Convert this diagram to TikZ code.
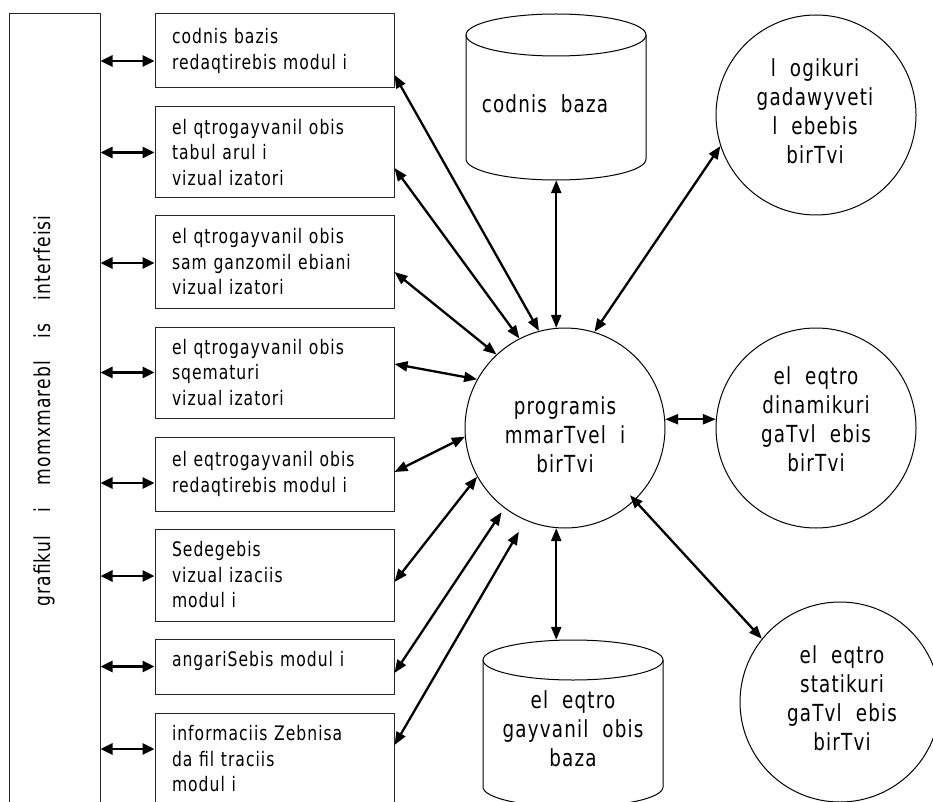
\documentclass[tikz,border=0pt]{standalone}
\usepackage{fontspec}
\setmainfont{DejaVu Sans}[FakeStretch=0.78, LetterSpace=5, WordSpace=2]
\newfontfamily\myvertfamily{DejaVu Sans}[FakeStretch=0.78, LetterSpace=5, WordSpace=3.5]
\usetikzlibrary{arrows.meta,calc}
\newcommand\myboxfont{\fontsize{20}{25.5}\selectfont}
\newcommand\mycircfont{\fontsize{23.5}{29}\selectfont}
\newcommand\myvertfont{\myvertfamily\fontsize{22}{26}\selectfont}
\tikzset{
  modbox/.style={draw=black!85, line width=1pt, rectangle, minimum width=239pt,
    minimum height=#1, text width=205pt, inner xsep=17pt, inner ysep=0pt,
    align=left, font=\myboxfont},
  bigcirc/.style={draw, line width=1pt, circle, minimum size=200pt, inner sep=0pt},
  ctext/.style={align=center, font=\mycircfont, inner sep=0pt},
  cylline/.style={draw, line width=1pt},
  harrow/.style={line width=2.8pt, {Triangle[length=12pt,width=11pt]}-{Triangle[length=12pt,width=11pt]}},
  darrow/.style={line width=2.3pt, {Triangle[length=13pt,width=10pt]}-{Triangle[length=13pt,width=10pt]}}
}
\begin{document}
\begin{tikzpicture}[x=1pt,y=-1pt]
\useasboundingbox (0,0) rectangle (933,802);
\clip (0,0) rectangle (933,802);
\fill[white] (0,0) rectangle (933,802);

% left interface bar
\node[draw=black!85, line width=1pt, minimum width=91pt, minimum height=820pt, inner sep=0pt] (bar) at (54.5,424) {};
\node[rotate=90, font=\myvertfont, inner sep=0pt] (bart) at (44,411) {grafikul i momxmarebl is interfeisi};

% module boxes
\node[modbox=74pt] (b1) at (274.5,51) {codnis bazis\\redaqtirebis modul i};
\node[modbox=91pt] (b2) at (274.5,152.5) {el qtrogayvanil obis\\tabul arul i\\vizual izatori};
\node[modbox=92pt] (b3) at (274.5,262) {el qtrogayvanil obis\\sam ganzomil ebiani\\vizual izatori};
\node[modbox=91pt] (b4) at (274.5,372.5) {el qtrogayvanil obis\\sqematuri\\vizual izatori};
\node[modbox=74pt] (b5) at (274.5,474) {el eqtrogayvanil obis\\redaqtirebis modul i};
\node[modbox=92pt] (b6) at (274.5,575) {Sedegebis\\vizual izaciis\\modul i};
\node[modbox=55pt] (b7) at (274.5,666.5) {\raisebox{6pt}[\height][\depth]{angariSebis modul i}};
\node[modbox=92pt] (b8) at (274.5,759) {informaciis Zebnisa\\da fil traciis\\modul i};

% horizontal connectors bar <-> boxes
\foreach \b/\o in {b1/10,b2/0,b3/1,b4/0,b5/9,b6/1,b7/0,b8/-10}{
  \path ($(\b.west)+(0,\o)$) coordinate (h\b);
  \draw[harrow] (bar.east |- h\b) -- (h\b);
}

% knowledge base cylinder (top)
\node[minimum width=180pt, minimum height=166pt, inner sep=0pt] (kb) at (556,97) {};
\draw[cylline] (556,35) ellipse [x radius=90, y radius=21];
\draw[cylline] (466,35) -- (466,159) .. controls (466,170.6) and (506.3,180) .. (556,180)
  .. controls (605.7,180) and (646,170.6) .. (646,159) -- (646,35);
\node[ctext] (kbt) at (545,104) {codnis baza};

% electro-transforming base cylinder (bottom)
\node[minimum width=180pt, minimum height=162pt, inner sep=0pt] (db) at (573,721) {};
\draw[cylline] (573,660) ellipse [x radius=90, y radius=20];
\draw[cylline] (483,660) -- (483,787) .. controls (483,798) and (523.3,807) .. (573,807)
  .. controls (622.7,807) and (663,798) .. (663,787) -- (663,660);
\node[ctext] (dbt) at (573,729) {el eqtro\\gayvanil obis\\baza};

% circles
\node[bigcirc] (prog) at (565,428) {};
\node[ctext] (progt) at (565,435) {programis\\mmarTvel i\\birTvi};
\node[bigcirc] (logi) at (816,115) {};
\node[ctext] (logit) at (815,111) {l ogikuri\\gadawyveti\\l ebebis\\birTvi};
\node[bigcirc] (din) at (816,428) {};
\node[ctext] (dint) at (816,419.5) {el eqtro\\dinamikuri\\gaTvl ebis\\birTvi};
\node[bigcirc] (stat) at (840,702) {};
\node[ctext] (statt) at (842,698) {el eqtro\\statikuri\\gaTvl ebis\\birTvi};

% connectors to the central core
\draw[darrow] ($(b1.east)+(0,24)$) -- (prog.105);
\draw[darrow] ($(b2.east)+(0,15.5)$) -- (prog.117.6);
\draw[darrow] ($(b3.east)+(0,10)$) -- (prog.133.7);
\draw[darrow] ($(b4.east)+(0,-8.5)$) -- (prog.151);
\draw[darrow] ($(b5.east)+(0,-2)$) -- (prog.185.8);
\draw[darrow] ($(b6.east)+(0,7)$) -- (prog.209.8);
\draw[darrow] ($(b7.east)+(0,6.5)$) -- ($(prog.center)!1.05!(prog.233.5)$);
\draw[darrow] ($(b8.east)+(0,-14)$) -- ($(prog.center)!1.13!(prog.246.6)$);

\draw[darrow] (prog.95) -- (prog.95 |- kb.south);
\draw[darrow] (prog.265) -- (prog.265 |- db.north);
\draw[darrow] (prog.73.5) -- (logi.198);
\draw[darrow] (prog.5) -- (din.175);
\draw[darrow] ($(prog.center)!0.93!(prog.314)$) -- (stat.141);
\end{tikzpicture}
\end{document}
